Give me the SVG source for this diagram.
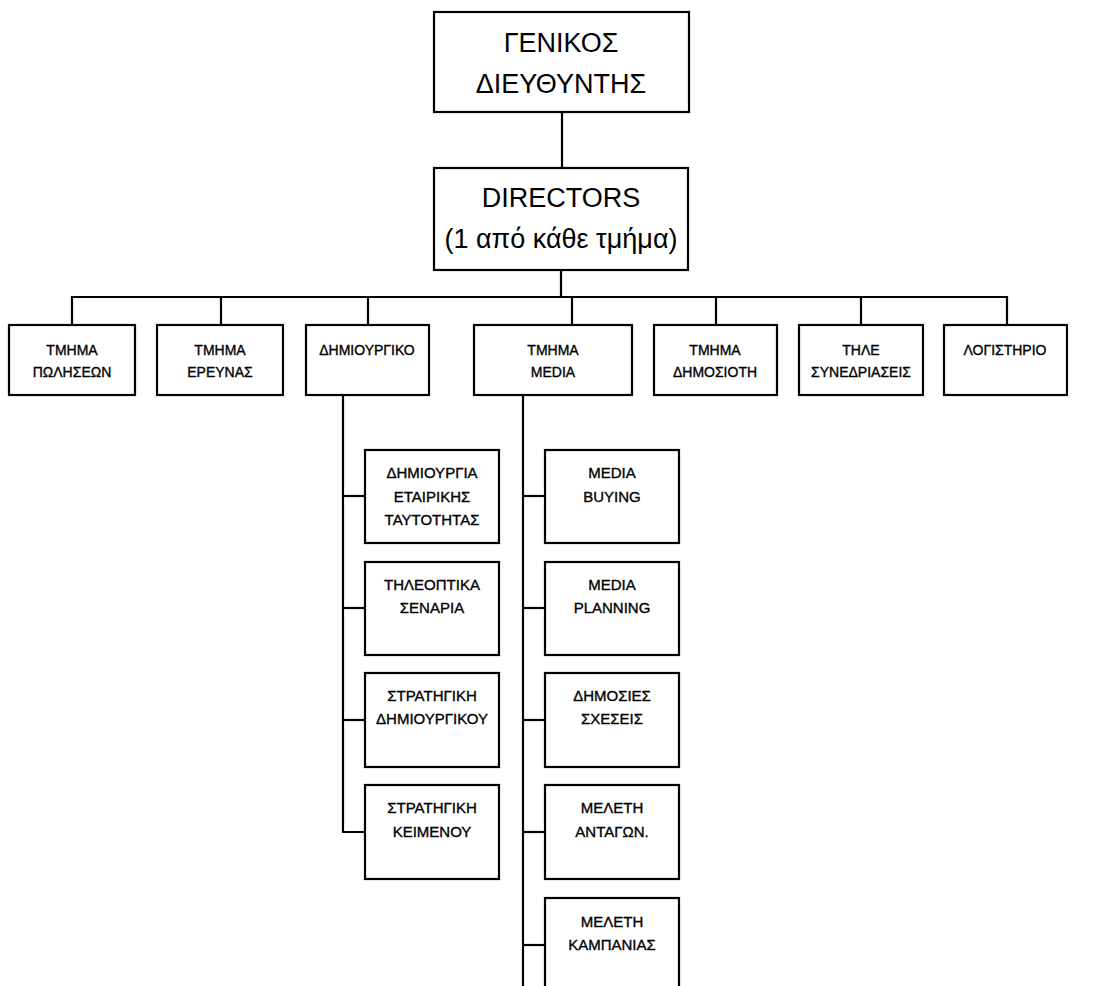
<svg xmlns="http://www.w3.org/2000/svg" width="1114" height="986" viewBox="0 0 1114 986">
<style>
rect{fill:#fff;stroke:#000;stroke-width:2.2}
.c line,.c path{stroke:#000;stroke-width:2.2;fill:none}
text{font-family:"Liberation Sans",Arial,sans-serif;fill:#000;text-anchor:middle}
.big{font-size:27px}
.d{font-size:14px;stroke:#000;stroke-width:0.35}
.s{font-size:15px;stroke:#000;stroke-width:0.35}
</style>
<rect x="0" y="0" width="1114" height="986" style="fill:#fff;stroke:none"/>
<g class="c" id="connectors">
<line x1="562" y1="112" x2="562" y2="168"/>
<line x1="561" y1="270" x2="561" y2="297"/>
<path d="M72 325V297H1007V325"/>
<line x1="221" y1="297" x2="221" y2="325"/>
<line x1="368" y1="297" x2="368" y2="325"/>
<line x1="572" y1="297" x2="572" y2="325"/>
<line x1="716" y1="297" x2="716" y2="325"/>
<line x1="861" y1="297" x2="861" y2="325"/>
<path d="M343 395V832H365"/>
<line x1="343" y1="496" x2="365" y2="496"/>
<line x1="343" y1="608" x2="365" y2="608"/>
<line x1="343" y1="720" x2="365" y2="720"/>
<line x1="523" y1="395" x2="523" y2="986"/>
<line x1="523" y1="496" x2="545" y2="496"/>
<line x1="523" y1="608" x2="545" y2="608"/>
<line x1="523" y1="720" x2="545" y2="720"/>
<line x1="523" y1="832" x2="545" y2="832"/>
<line x1="523" y1="945" x2="545" y2="945"/>
</g>
<g id="gm"><rect x="434" y="12" width="255" height="100"/><text class="big" x="561" y="52">ΓΕΝΙΚΟΣ</text><text class="big" x="561" y="93">ΔΙΕΥΘΥΝΤΗΣ</text></g>
<g id="directors"><rect x="434" y="168" width="254" height="102"/><text class="big" x="561" y="207">DIRECTORS</text><text class="big" x="561" y="248">(1 από κάθε τμήμα)</text></g>
<g id="d1"><rect x="9" y="325" width="126" height="70"/><text class="d" x="72" y="355">ΤΜΗΜΑ</text><text class="d" x="72" y="377">ΠΩΛΗΣΕΩΝ</text></g>
<g id="d2"><rect x="157" y="325" width="126" height="70"/><text class="d" x="220" y="355">ΤΜΗΜΑ</text><text class="d" x="220" y="377">ΕΡΕΥΝΑΣ</text></g>
<g id="d3"><rect x="306" y="325" width="123" height="70"/><text class="d" x="367" y="355">ΔΗΜΙΟΥΡΓΙΚΟ</text></g>
<g id="d4"><rect x="474" y="325" width="158" height="70"/><text class="d" x="553" y="355">ΤΜΗΜΑ</text><text class="d" x="553" y="377">MEDIA</text></g>
<g id="d5"><rect x="654" y="325" width="123" height="70"/><text class="d" x="715" y="355">ΤΜΗΜΑ</text><text class="d" x="715" y="377">ΔΗΜΟΣΙΟΤΗ</text></g>
<g id="d6"><rect x="799" y="325" width="124" height="70"/><text class="d" x="861" y="355">ΤΗΛΕ</text><text class="d" x="861" y="377">ΣΥΝΕΔΡΙΑΣΕΙΣ</text></g>
<g id="d7"><rect x="944" y="325" width="123" height="70"/><text class="d" x="1005" y="355">ΛΟΓΙΣΤΗΡΙΟ</text></g>
<g id="c1"><rect x="365" y="450" width="134" height="93"/><text class="s" x="432" y="478">ΔΗΜΙΟΥΡΓΙΑ</text><text class="s" x="432" y="502">ΕΤΑΙΡΙΚΗΣ</text><text class="s" x="432" y="525">ΤΑΥΤΟΤΗΤΑΣ</text></g>
<g id="c2"><rect x="365" y="562" width="134" height="93"/><text class="s" x="432" y="590">ΤΗΛΕΟΠΤΙΚΑ</text><text class="s" x="432" y="613">ΣΕΝΑΡΙΑ</text></g>
<g id="c3"><rect x="365" y="673" width="134" height="94"/><text class="s" x="432" y="701">ΣΤΡΑΤΗΓΙΚΗ</text><text class="s" x="432" y="724">ΔΗΜΙΟΥΡΓΙΚΟΥ</text></g>
<g id="c4"><rect x="365" y="785" width="134" height="94"/><text class="s" x="432" y="813">ΣΤΡΑΤΗΓΙΚΗ</text><text class="s" x="432" y="837">ΚΕΙΜΕΝΟΥ</text></g>
<g id="m1"><rect x="545" y="450" width="134" height="93"/><text class="s" x="612" y="478">MEDIA</text><text class="s" x="612" y="502">BUYING</text></g>
<g id="m2"><rect x="545" y="562" width="134" height="93"/><text class="s" x="612" y="590">MEDIA</text><text class="s" x="612" y="613">PLANNING</text></g>
<g id="m3"><rect x="545" y="673" width="134" height="94"/><text class="s" x="612" y="701">ΔΗΜΟΣΙΕΣ</text><text class="s" x="612" y="724">ΣΧΕΣΕΙΣ</text></g>
<g id="m4"><rect x="545" y="785" width="134" height="94"/><text class="s" x="612" y="813">ΜΕΛΕΤΗ</text><text class="s" x="612" y="837">ΑΝΤΑΓΩΝ.</text></g>
<g id="m5"><rect x="545" y="898" width="134" height="94"/><text class="s" x="612" y="927">ΜΕΛΕΤΗ</text><text class="s" x="612" y="950">ΚΑΜΠΑΝΙΑΣ</text></g>
</svg>
